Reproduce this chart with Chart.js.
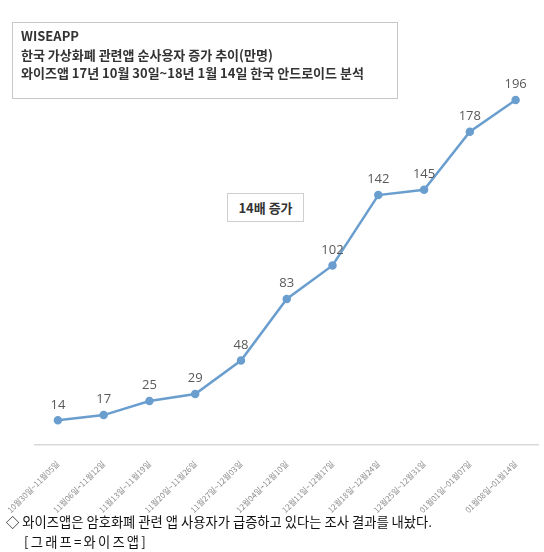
<!DOCTYPE html>
<html>
<head>
<meta charset="utf-8">
<script src="https://cdn.jsdelivr.net/npm/chart.js@4"></script>
<style>
  body { margin: 0; background: #fff; width: 544px; height: 552px; position: relative; overflow: hidden;
         font-family: "Noto Sans CJK KR", "Noto Sans", sans-serif; }
  #wrap { position: absolute; left: 0; top: 0; width: 544px; height: 520px; }
  .titlebox { position: absolute; left: 12px; top: 22px; width: 386px; height: 77px; border: 1px solid #c8c8c8;
              font-weight: bold; font-size: 13px; color: #333; line-height: 18.5px; padding: 4px 0 0 8px; box-sizing: border-box; }
  .note { position: absolute; left: 227px; top: 193px; width: 77px; height: 29px; border: 1px solid #cfcfcf; box-sizing: border-box;
          font-weight: bold; font-size: 13px; color: #333; text-align: center; line-height: 27px; background: #fff; }
  .foot { position: absolute; left: 6px; font-size: 13.3px; color: #111; line-height: 16px; white-space: nowrap; }
</style>
</head>
<body>
<div id="wrap"><canvas id="line"></canvas></div>
<div class="titlebox">WISEAPP<br>한국 가상화폐 관련앱 순사용자 증가 추이(만명)<br>와이즈앱 17년 10월 30일~18년 1월 14일 한국 안드로이드 분석</div>
<div class="note">14배 증가</div>
<div class="foot" style="top:514px">◇ 와이즈앱은 암호화폐 관련 앱 사용자가 급증하고 있다는 조사 결과를 내놨다.</div>
<div class="foot" style="top:534px; left:24px; letter-spacing:2.2px">[그래프=와이즈앱]</div>
<script>
const weeks = [
  '10월30일~11월05일', '11월06일~11월12일', '11월13일~11월19일', '11월20일~11월26일',
  '11월27일~12월03일', '12월04일~12월10일', '12월11일~12월17일', '12월18일~12월24일',
  '12월25일~12월31일', '01월01일~01월07일', '01월08일~01월14일'
];
const users = [14, 17, 25, 29, 48, 83, 102, 142, 145, 178, 196];

const valueLabels = {
  id: 'valueLabels',
  afterDatasetsDraw(chart) {
    const ctx = chart.ctx;
    ctx.save();
    ctx.font = '13px "Open Sans", sans-serif';
    ctx.fillStyle = '#595959';
    ctx.textAlign = 'center';
    ctx.textBaseline = 'bottom';
    chart.getDatasetMeta(0).data.forEach((pt, i) => {
      ctx.fillText(users[i], pt.x, pt.y - 9);
    });
    ctx.restore();
  }
};

const ctx1 = document.getElementById('line').getContext('2d');
const lineChart = new Chart(ctx1, {
  type: 'line',
  data: {
    labels: weeks,
    datasets: [{
      label: '순사용자',
      data: users,
      borderColor: '#6a9ecf',
      backgroundColor: '#6a9ecf',
      borderWidth: 2.5,
      pointRadius: 3,
      pointHoverRadius: 3,
      tension: 0
    }]
  },
  options: {
    responsive: true,
    maintainAspectRatio: false,
    animation: false,
    layout: { padding: { left: 35, right: 5, top: 93, bottom: 0 } },
    plugins: { legend: { display: false }, tooltip: { enabled: false } },
    scales: {
      x: {
        offset: true,
        grid: { display: false },
        border: { color: '#d9d9d9', width: 1.5 },
        ticks: {
          minRotation: 45, maxRotation: 45, autoSkip: false,
          padding: 6,
          color: '#8c8c8c',
          font: { size: 8, family: '"Noto Sans CJK KR", sans-serif' }
        },
        afterFit(scale) { scale.height = 75; }
      },
      y: {
        display: false,
        min: 0,
        max: 200
      }
    }
  },
  plugins: [valueLabels]
});
</script>
</body>
</html>
